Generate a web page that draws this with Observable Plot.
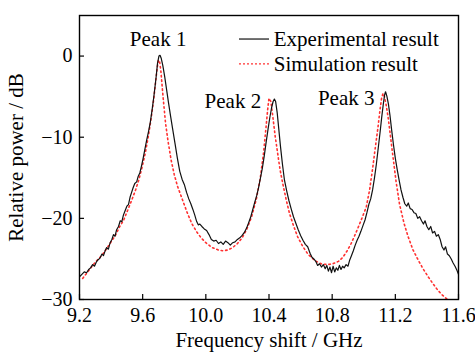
<!DOCTYPE html>
<html>
<head>
<meta charset="utf-8">
<script src="https://cdn.jsdelivr.net/npm/d3@7"></script>
<script src="https://cdn.jsdelivr.net/npm/@observablehq/plot@0.6"></script>
<style>
  html, body { margin: 0; padding: 0; background: #fff; }
</style>
</head>
<body>
<div id="chart"></div>
<script>
// Experimental result (black solid)
const expFreq = [9.200,9.215,9.230,9.245,9.258,9.270,9.283,9.295,9.306,9.318,9.330,9.342,9.352,9.362,9.372,9.383,9.394,9.405,9.415,9.425,9.435,9.447,9.458,9.468,9.478,9.490,9.500,9.510,9.520,9.530,9.540,9.550,9.562,9.572,9.582,9.592,9.602,9.613,9.625,9.637,9.648,9.660,9.672,9.684,9.694,9.703,9.710,9.718,9.728,9.740,9.752,9.764,9.776,9.790,9.805,9.820,9.835,9.850,9.865,9.878,9.892,9.905,9.918,9.930,9.942,9.952,9.962,9.975,9.990,10.005,10.020,10.035,10.050,10.065,10.080,10.095,10.110,10.125,10.140,10.155,10.170,10.185,10.200,10.215,10.230,10.245,10.258,10.270,10.283,10.296,10.310,10.322,10.334,10.346,10.358,10.370,10.382,10.394,10.405,10.416,10.426,10.434,10.442,10.452,10.462,10.472,10.485,10.498,10.512,10.526,10.540,10.555,10.570,10.585,10.600,10.615,10.630,10.645,10.660,10.672,10.684,10.696,10.708,10.720,10.732,10.744,10.756,10.766,10.776,10.786,10.796,10.806,10.816,10.826,10.836,10.846,10.856,10.866,10.876,10.888,10.900,10.910,10.922,10.934,10.946,10.958,10.970,10.982,10.995,11.008,11.020,11.032,11.044,11.056,11.068,11.080,11.092,11.104,11.114,11.124,11.132,11.138,11.146,11.156,11.166,11.176,11.188,11.200,11.212,11.224,11.236,11.248,11.260,11.272,11.282,11.294,11.306,11.318,11.330,11.342,11.354,11.366,11.378,11.388,11.400,11.412,11.424,11.436,11.448,11.460,11.472,11.484,11.496,11.508,11.518,11.530,11.542,11.554,11.566,11.578,11.590,11.600];
const expPower = [-27.2,-26.9,-26.6,-26.7,-26.3,-26.1,-25.7,-25.9,-25.4,-25.1,-24.9,-24.4,-24.6,-24.0,-23.6,-23.8,-23.0,-22.6,-22.0,-22.2,-21.4,-21.0,-20.3,-20.4,-19.6,-19.0,-18.5,-18.3,-17.4,-16.8,-16.2,-15.7,-15.5,-14.8,-14.4,-13.6,-12.7,-11.6,-10.4,-9.3,-8.2,-6.6,-4.8,-2.8,-0.9,0.0,0.1,-0.3,-1.2,-2.6,-4.2,-5.8,-7.3,-9.0,-10.8,-12.6,-14.2,-15.2,-15.9,-16.8,-17.6,-18.2,-18.9,-19.6,-20.4,-20.8,-20.7,-21.0,-21.3,-21.5,-22.0,-22.6,-22.8,-22.7,-23.1,-22.9,-23.2,-22.8,-23.0,-23.3,-23.0,-22.9,-22.6,-22.4,-22.1,-21.7,-21.2,-20.6,-19.9,-19.0,-18.0,-17.2,-16.2,-15.0,-13.8,-12.3,-10.6,-9.0,-7.6,-6.4,-5.6,-5.3,-5.6,-7.0,-9.0,-11.0,-13.3,-15.3,-16.6,-17.8,-18.8,-19.8,-20.6,-21.4,-22.1,-22.7,-23.2,-23.5,-24.3,-24.8,-25.0,-25.3,-25.8,-25.6,-26.0,-25.7,-26.2,-25.8,-26.5,-26.0,-26.7,-25.9,-26.6,-26.1,-26.4,-25.8,-26.3,-25.9,-26.1,-25.7,-25.9,-25.2,-24.6,-24.0,-23.3,-22.7,-22.2,-21.6,-20.9,-20.2,-19.3,-18.3,-17.6,-16.5,-15.0,-13.3,-11.3,-9.3,-7.5,-5.9,-4.8,-4.4,-4.9,-5.9,-7.3,-9.0,-10.9,-12.6,-14.0,-15.3,-16.5,-17.4,-18.2,-18.5,-18.1,-18.8,-18.9,-19.3,-19.4,-20.0,-19.8,-20.3,-20.7,-20.3,-21.0,-21.4,-21.0,-21.8,-21.6,-22.2,-22.0,-22.6,-23.5,-23.9,-23.5,-24.4,-24.6,-25.0,-25.5,-25.9,-26.4,-26.9];

// Simulation result (red dotted)
const simFreq = [9.220,9.260,9.300,9.340,9.370,9.400,9.430,9.455,9.480,9.505,9.530,9.555,9.575,9.595,9.615,9.635,9.655,9.670,9.683,9.693,9.700,9.707,9.715,9.729,9.745,9.760,9.780,9.800,9.820,9.850,9.880,9.910,9.940,9.970,10.000,10.040,10.080,10.110,10.140,10.170,10.200,10.230,10.260,10.290,10.320,10.345,10.365,10.380,10.392,10.400,10.412,10.425,10.440,10.455,10.470,10.487,10.510,10.530,10.555,10.582,10.615,10.646,10.690,10.730,10.770,10.804,10.840,10.868,10.895,10.920,10.950,10.984,11.016,11.037,11.058,11.075,11.090,11.103,11.113,11.122,11.130,11.140,11.154,11.170,11.185,11.205,11.227,11.255,11.280,11.310,11.344,11.375,11.408,11.440,11.471,11.500,11.530];
const simPower = [-27.4,-26.4,-25.4,-24.6,-23.8,-22.9,-22.0,-21.0,-20.2,-19.0,-17.8,-16.5,-15.3,-13.8,-12.1,-10.0,-7.5,-5.3,-3.0,-1.3,-0.5,-0.6,-1.8,-5.0,-8.3,-10.4,-12.8,-14.6,-16.0,-17.6,-19.2,-20.6,-21.6,-22.4,-23.0,-23.6,-23.9,-24.0,-23.9,-23.6,-23.1,-22.4,-21.3,-19.8,-17.6,-15.0,-12.0,-9.0,-6.5,-5.2,-5.6,-7.6,-10.0,-12.0,-14.0,-15.7,-17.8,-19.4,-20.9,-22.3,-23.5,-24.4,-25.2,-25.6,-25.7,-25.6,-25.3,-24.8,-24.0,-23.1,-21.8,-20.2,-18.6,-16.5,-13.6,-11.0,-8.8,-6.6,-5.2,-4.6,-4.9,-5.8,-7.5,-10.0,-12.4,-15.5,-18.3,-20.6,-22.2,-23.8,-25.1,-26.2,-27.2,-28.1,-28.9,-29.5,-30.0];

const xTicks = [9.2, 9.6, 10.0, 10.4, 10.8, 11.2, 11.6];
const yTicks = [-30, -20, -10, 0];

const peakLabels = ["Peak 1", "Peak 2", "Peak 3"];
const peakFreq = [9.698, 10.171, 10.889];
const peakPower = [2.1, -5.6, -5.25];

const legendLabels = ["Experimental result", "Simulation result"];
const legendY = [2.1, -0.95];
const legendX1 = 10.21, legendX2 = 10.40, legendTextX = 10.43;

const expData = expFreq.map((f, i) => ({f, p: expPower[i]}));
const simData = simFreq.map((f, i) => ({f, p: simPower[i]}));
const peaks = peakLabels.map((t, i) => ({t, f: peakFreq[i], p: peakPower[i]}));

const W = 475, H = 352, mL = 79, mR = 17, mT = 15, mB = 53;
const innerW = W - mL - mR, innerH = H - mT - mB;
const RED = "#ff3030";
const FONT = "Liberation Serif";

const chart = Plot.plot({
  width: W, height: H,
  marginLeft: mL, marginRight: mR, marginTop: mT, marginBottom: mB,
  style: {background: "white", color: "black"},
  x: {domain: [9.2, 11.6], ticks: xTicks, tickSize: 0, tickPadding: 8, tickFormat: d => d.toFixed(1),
      label: "Frequency shift / GHz", labelAnchor: "center", labelOffset: 47, labelArrow: "none"},
  y: {domain: [-30, 5], ticks: yTicks, tickSize: 0, tickPadding: 7,
      label: "Relative power / dB", labelAnchor: "center", labelOffset: 71, labelArrow: "none"},
  marks: [
    Plot.line(simData, {x: "f", y: "p", stroke: RED, strokeWidth: 1.6, strokeDasharray: "1.5 3", clip: true}),
    Plot.line(expData, {x: "f", y: "p", stroke: "#111", strokeWidth: 1.2, clip: true}),
    Plot.text(peaks, {x: "f", y: "p", text: "t", fill: "black", textAnchor: "middle", lineAnchor: "middle", fontFamily: FONT, fontSize: 21}),
    Plot.link([0], {x1: () => legendX1, x2: () => legendX2, y1: () => legendY[0], y2: () => legendY[0], stroke: "#111", strokeWidth: 1.2}),
    Plot.link([1], {x1: () => legendX1, x2: () => legendX2, y1: () => legendY[1], y2: () => legendY[1], stroke: RED, strokeWidth: 1.2, strokeDasharray: "2 2"}),
    Plot.text([0, 1], {x: () => legendTextX, y: i => legendY[i], text: i => legendLabels[i], textAnchor: "start", lineAnchor: "middle", fill: "black", fontFamily: FONT, fontSize: 21}),
    Plot.tickX(xTicks, {x: d => d, insetTop: innerH - 5, stroke: "black", strokeWidth: 1.2}),
    Plot.tickY(yTicks, {y: d => d, insetRight: innerW - 5, stroke: "black", strokeWidth: 1.2}),
    Plot.frame({stroke: "black", strokeWidth: 1.4})
  ]
});
// serif font for axes (svg-level presentation attributes)
d3.select(chart).attr("font-family", FONT).attr("font-size", 20);
d3.select(chart).selectAll("g[aria-label$='axis label']").attr("font-family", FONT).attr("font-size", 21);
document.getElementById("chart").appendChild(chart);
</script>
</body>
</html>
